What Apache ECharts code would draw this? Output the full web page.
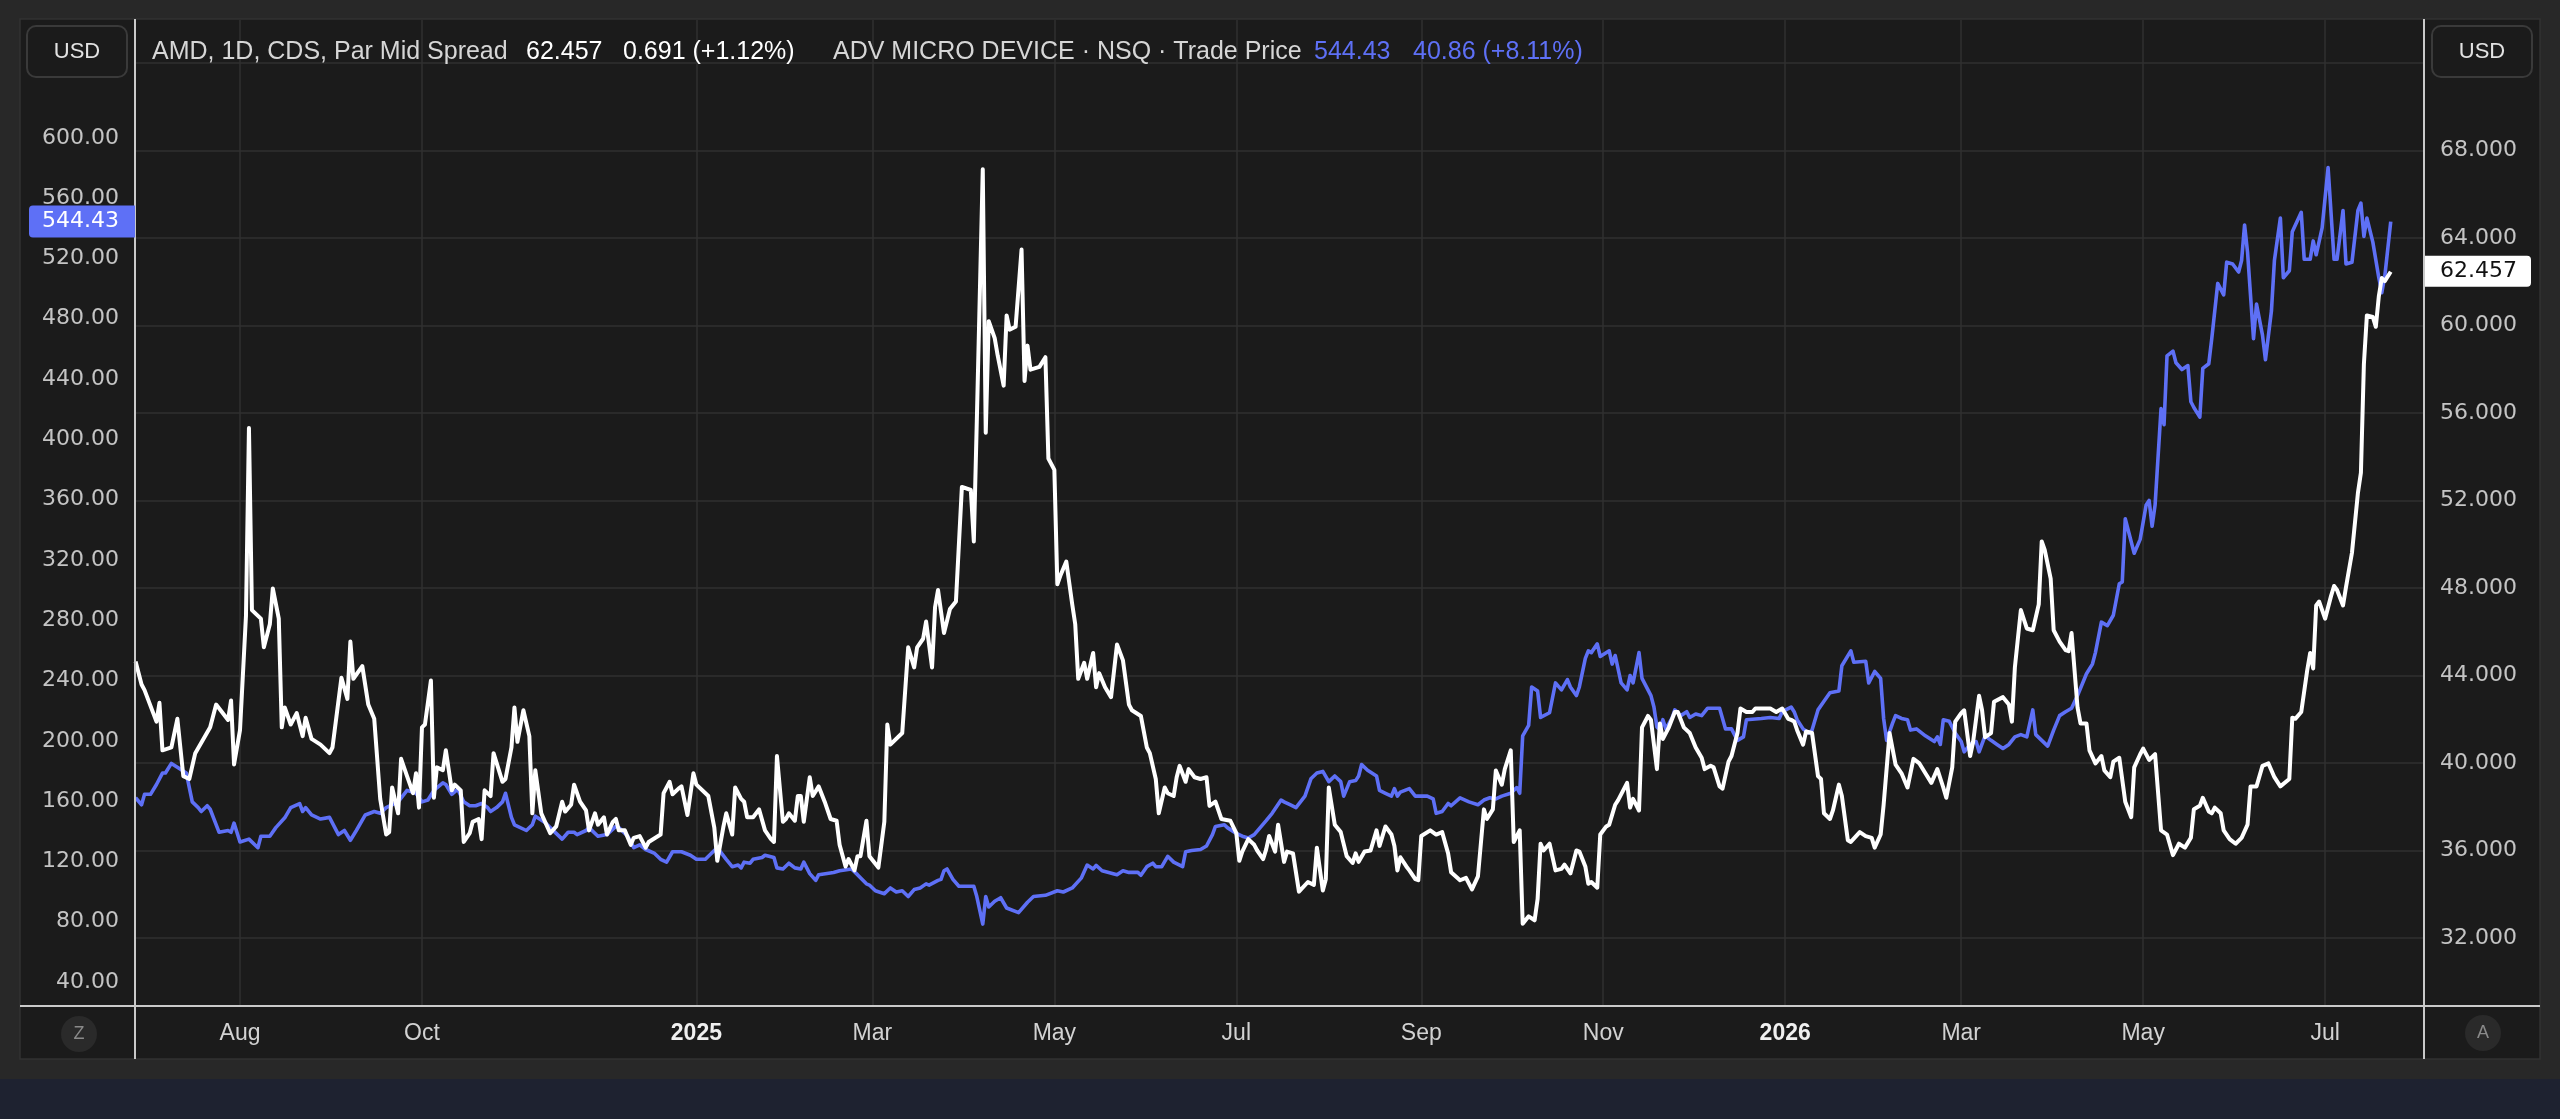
<!DOCTYPE html>
<html>
<head>
<meta charset="utf-8">
<script src="https://cdn.jsdelivr.net/npm/echarts@6/dist/echarts.min.js"></script>
<style>
html,body{margin:0;padding:0;background:#282828;}
#chart{width:2560px;height:1119px;}
</style>
</head>
<body>
<div id="chart"></div>
<script>
// ---------- data ----------
// Each point: [day offset from BASE_DAY (1 Aug 2024), value]
const BASE_DAY = '2024-08-01';

// AMD 1D CDS Par Mid Spread (right axis)
const cdsPoints = [
[-35,44.64],[-33,43.59],[-32,43.33],[-28,41.89],[-27,42.75],[-26,40.58],[-23,40.71],[-21,42.02],[-19,39.40],[-17,39.27],
[-15,40.45],[-10,41.63],[-8,42.67],[-4,41.97],[-3,42.86],[-2,39.93],[0,41.50],[2,46.73],[3,55.31],[4,46.99],
[7,46.60],[8,45.29],[10,46.34],[11,47.98],[13,46.60],[14,41.63],[15,42.54],[17,41.76],[19,42.28],[21,41.23],
[22,42.07],[24,41.10],[27,40.84],[30,40.45],[31,40.71],[34,43.90],[36,42.93],[37,45.55],[38,43.85],[41,44.43],
[43,42.67],[45,42.02],[47,38.36],[49,36.73],[50,36.84],[51,38.88],[53,37.70],[54,40.19],[56,39.40],[58,38.62],
[59,39.53],[60,37.96],[61,41.63],[62,41.76],[64,43.77],[65,38.41],[66,39.80],[68,39.67],[69,40.58],[71,38.75],
[72,39.01],[74,38.75],[75,36.39],[77,36.79],
[78,37.31],[80,37.44],[81,36.52],[82,38.75],[84,38.49],[85,40.45],[88,39.14],[89,39.27],[91,40.71],[92,42.54],
[93,40.97],[95,42.41],[97,41.23],[98,37.70],[99,39.67],[101,37.70],[104,36.79],[106,37.10],[108,38.23],[109,37.78],
[111,38.09],[112,39.01],[114,38.23],[116,37.83],[117,36.92],[119,37.70],[120,37.18],[122,37.52],[123,36.73],[125,37.31],
[126,37.44],[127,36.92],[129,36.92],[131,36.26],[132,36.58],[134,36.66],[136,36.13],[137,36.39],[141,36.73],[142,38.62],
[144,39.14],[145,38.57],[147,38.83],[148,38.93],[150,37.62],[152,39.53],[153,39.01],[157,38.49],[159,37.05],[160,35.53],
[162,37.05],[163,37.70],[165,36.73],[166,38.88],[168,38.36],[169,38.23],[170,37.52],[172,37.52],[174,37.88],[176,36.92],
[178,36.52],[179,36.39],[180,40.32],[182,37.31],[183,37.44],[184,37.70],[186,37.36],[187,38.49],[188,38.49],
[189,37.31],[191,39.35],[192,38.49],[194,38.93],[196,38.23],[198,37.44],[200,37.36],[201,36.26],[203,35.27],[204,35.61],
[206,35.09],[207,35.74],[208,35.74],[210,37.36],[211,35.74],[214,35.22],[215,36.26],[216,37.31],[217,41.76],[218,40.84],
[222,41.37],[224,45.29],[226,44.37],[227,45.29],[229,45.68],[230,46.47],[232,44.37],[233,47.12],[234,47.91],[236,45.94],
[238,47.04],[240,47.38],[242,52.62],[245,52.48],[246,50.13],[247,55.62],[249,67.14],[250,55.10],[251,60.20],[253,59.42],
[254,58.63],[256,57.25],[257,60.46],[258,59.81],[260,59.94],[262,63.47],[263,57.46],[264,59.08],[265,57.98],[268,58.11],
[270,58.55],[271,53.92],[273,53.40],[274,48.17],[275,48.56],[277,49.21],[279,47.25],[280,46.34],[281,43.85],[283,44.58],
[284,43.85],[286,45.03],[287,43.46],[288,44.11],[290,43.46],[292,43.01],[294,45.42],[296,44.69],[298,42.67],
[299,42.41],[302,42.15],[304,40.71],[305,40.45],[307,39.27],[308,37.70],[310,38.88],[311,38.62],[313,38.49],[314,39.35],
[315,39.87],[317,39.14],[318,39.72],[320,39.35],[322,39.27],[324,39.35],[325,38.04],[327,38.23],[329,37.44],[332,37.36],
[334,36.79],[335,35.53],[336,35.95],[338,36.52],[340,36.26],[341,36.00],[343,35.61],[344,36.05],[345,36.66],[347,35.95],
[348,37.18],[350,35.48],[351,35.95],[353,35.87],[355,34.12],[358,34.56],[360,34.43],[361,36.13],[363,34.17],[364,34.69],
[365,38.88],[367,37.18],[369,36.84],[371,35.74],[373,35.43],[374,35.87],[375,35.48],[377,35.95],[379,36.00],[381,36.92],
[382,36.21],[384,37.10],[386,36.73],[387,36.21],[388,35.09],[389,35.69],[391,35.27],[392,35.09],[394,34.69],[395,34.64],
[396,36.66],[399,36.92],[401,36.73],[403,36.84],[405,35.87],[406,35.01],[409,34.64],
[411,34.75],[413,34.22],[415,34.82],[417,37.88],[418,37.44],[420,37.88],[421,39.66],[423,39.01],[424,39.72],[426,40.58],
[427,36.39],[429,36.92],[430,32.65],[432,32.99],[434,32.81],[435,33.78],[436,36.31],[437,36.00],[439,36.31],[441,35.09],
[443,35.16],[444,35.35],[446,34.95],[448,36.00],[449,35.95],[451,35.27],[452,34.48],[453,34.56],[455,34.30],[456,36.73],
[458,37.10],[459,37.18],[461,38.09],[462,38.30],[465,39.09],[466,37.96],[467,38.36],[469,37.83],[470,41.63],[472,42.15],
[473,41.97],[475,39.72],[476,41.81],[477,41.10],[479,41.63],[481,42.33],[482,42.33],[484,41.63],[486,41.37],[488,40.71],
[490,40.24],[491,39.72],[493,39.87],[494,39.80],[496,38.93],[497,38.83],[499,40.06],[500,40.32],[502,41.37],[503,42.49],
[505,42.33],[507,42.33],[508,42.49],[513,42.49],[515,42.33],[517,42.49],[519,42.02],[520,41.97],
[521,41.90],[522,41.50],[524,40.84],[525,41.44],[527,41.37],[529,39.40],[530,39.27],[531,37.70],[533,37.44],[534,37.83],
[536,39.01],[537,38.49],[539,36.47],[540,36.39],[543,36.84],[545,36.66],[547,36.58],[548,36.13],[550,36.73],[551,38.09],
[553,41.37],[555,39.93],[557,39.53],[559,38.88],[561,40.19],[563,39.98],[565,39.53],[567,39.09],[569,39.72],[571,38.88],
[572,38.41],[574,39.80],[575,41.89],[577,42.28],[578,42.41],[580,40.32],[581,40.97],[583,43.07],[584,42.41],[585,41.18],
[587,41.37],[588,42.80],[591,43.01],[593,42.67],[594,41.89],[595,44.37],[597,46.99],[599,46.15],[601,46.07],[603,47.25],
[604,50.13],[605,49.74],[607,48.43],[608,46.07],[610,45.55],[612,45.16],[613,45.11],[614,45.94],[616,42.54],[617,41.81],
[619,41.81],[620,40.58],[622,39.98],[624,40.32],[625,39.66],[627,39.35],[628,40.06],[630,40.24],
[632,38.23],[634,37.52],[635,39.80],[637,40.40],[638,40.66],[640,40.14],[642,40.40],[644,36.92],[646,36.73],[648,35.79],
[650,36.31],[652,36.13],[654,36.58],[655,37.89],[657,38.04],[658,38.41],[660,37.78],[661,37.70],[662,37.96],[664,37.70],
[665,36.92],[667,36.52],[669,36.31],[671,36.58],[673,37.18],[674,38.93],[676,38.93],[678,39.87],[680,39.98],[682,39.35],
[684,38.93],[687,39.27],[688,42.07],[689,42.02],[691,42.33],[693,44.24],[694,45.03],[695,44.32],[696,47.20],[697,47.38],
[699,46.60],[701,47.64],[702,48.09],[703,47.91],[705,47.20],[706,48.04],[708,49.61],[710,52.35],[711,53.27],[712,58.24],
[713,60.46],[715,60.39],[716,59.94],[717,61.33],[718,62.17],[719,62.03],[721,62.457]
];

// ADV MICRO DEVICE · NSQ · Trade Price (left axis)
const pricePoints = [
[-35,162.2],[-33,157.6],[-32,164.5],[-30,164.5],[-28,171.0],[-26,178.6],[-25,178.6],[-23,185.0],[-21,182.4],[-18,178.6],
[-16,159.5],[-14,155.7],[-13,153.1],[-11,156.9],[-10,154.6],[-7,139.3],[-4,140.5],[-3,139.3],[-2,145.4],[0,132.9],
[3,134.8],[6,129.1],[7,136.7],[10,136.7],[12,142.4],[15,148.9],[17,155.7],[20,158.4],[21,153.1],[22,155.7],
[24,150.8],[27,148.1],[30,149.2],[33,137.8],[35,140.5],[37,134.0],[39,140.5],[42,150.8],[45,153.1],[47,151.9],
[49,155.7],[53,159.5],[56,167.1],[59,165.2],[61,159.5],[63,160.7],[65,167.1],[68,172.1],[69,171.0],[71,164.5],
[73,167.9],[75,159.5],[77,156.9],
[79,156.9],[81,158.4],[83,155.7],[84,153.1],[86,155.7],[88,159.5],[89,165.2],[91,149.2],[92,144.3],[96,140.5],
[98,144.3],[99,150.0],[102,146.2],[104,142.4],[106,138.6],[108,134.8],[110,139.3],[112,139.3],[113,137.8],[116,140.5],
[117,142.4],[120,136.7],[123,137.8],[126,143.2],[127,142.4],[130,136.7],[132,129.1],[134,131.0],[136,127.9],[139,125.3],
[141,121.4],[143,119.5],[145,126.4],[148,126.4],[151,124.1],[153,121.4],[156,121.4],[159,127.2],[160,129.1],[163,121.4],
[165,116.5],[167,117.6],[168,115.7],[169,119.5],[171,118.8],[172,121.4],[175,122.6],[176,124.1],[179,122.6],[180,115.7],
[182,115.0],[184,118.8],[186,115.7],[188,115.0],
[189,119.5],[191,111.9],[193,107.4],[194,111.2],[199,112.7],[201,113.8],[205,115.0],[207,111.2],[210,105.1],[211,104.3],
[213,100.5],[216,98.6],[218,102.4],[220,99.7],[222,100.5],[224,96.7],[226,101.3],[228,102.4],[230,105.1],[231,104.3],
[234,107.4],[235,108.1],[236,113.8],[237,115.0],[239,108.1],[241,103.5],[246,103.5],[247,96.7],[249,78.4],[250,96.7],
[251,89.8],[253,93.6],[255,95.9],[257,89.1],[261,86.0],[264,92.9],[266,96.7],[270,97.5],[274,100.5],[276,99.7],
[279,102.4],[282,108.9],[284,117.6],[286,115.0],[287,117.3],[289,113.8],[294,111.2],[296,113.8],[298,112.7],
[301,112.7],[302,110.8],[304,116.5],[306,118.8],[307,116.5],[309,116.5],[311,123.4],[313,119.5],[316,116.5],[317,126.4],
[319,127.2],[322,127.9],[324,130.2],[326,137.8],[327,143.2],[330,144.3],[331,142.4],[334,138.6],[336,136.7],[338,135.5],
[340,137.8],[342,142.4],[344,147.0],[346,151.9],[349,160.7],[350,159.5],[352,157.6],[354,155.7],[357,163.3],[359,174.8],
[361,178.6],[363,179.7],[365,172.9],[367,176.7],[369,172.9],[370,163.3],[372,172.9],[374,173.6],[375,176.7],[376,184.3],
[378,180.5],[381,176.7],[382,167.1],[384,165.2],[386,163.3],[387,168.3],[388,163.3],[389,166.0],[392,168.3],[394,163.3],
[398,163.3],[400,161.4],[401,151.9],[403,153.1],[405,158.4],[406,156.9],[409,162.2],
[412,159.5],[415,157.6],[417,160.7],[419,162.2],[421,161.4],[423,163.3],[426,165.2],[428,169.0],[429,165.2],[430,203.3],
[432,210.2],[433,235.7],[435,233.0],[436,215.5],[439,218.6],[441,238.4],[443,233.8],[445,240.6],[446,235.7],[448,230.0],
[449,235.7],[451,254.7],[452,259.7],[453,258.5],[455,264.3],[456,255.9],[459,259.7],[460,250.9],[461,256.6],[463,238.4],
[465,233.8],[466,243.3],[467,238.4],[469,258.5],[470,241.4],[473,230.0],[474,222.4],[475,209.1],[476,207.1],[477,214.0],
[478,207.9],[480,214.8],[481,220.5],[483,216.7],[485,219.3],[486,215.5],[488,217.8],[490,216.7],[492,221.6],[496,221.6],
[498,207.9],[500,207.9],[502,200.3],[504,202.6],[505,214.0],[510,214.8],[513,215.5],[516,214.8],[517,219.3],[520,222.4],
[521,219.3],[522,214.0],[524,207.9],[526,205.2],[527,207.1],[529,220.5],[531,226.2],[533,231.9],[536,233.0],[537,249.8],
[540,259.7],[541,252.1],[545,252.8],[546,238.4],[548,246.0],[550,241.4],[551,214.8],[552,200.3],[554,211.7],[555,216.7],
[557,214.8],[559,214.0],[560,207.1],[562,207.9],[565,203.3],[568,199.5],[569,202.6],[570,197.6],[571,214.0],[573,212.9],
[575,205.2],[577,199.5],[578,192.7],[580,197.6],[582,199.5],[583,192.7],[585,203.3],[587,200.3],[589,197.6],[591,194.9],
[593,197.6],[595,202.6],[597,204.1],[599,202.6],[601,220.5],[602,204.1],[606,196.5],[608,207.1],[610,216.7],[612,219.3],
[614,221.6],[616,230.0],[619,244.5],[621,250.9],[622,258.5],[624,278.7],[626,276.4],[628,283.3],[630,304.2],[631,305.4],
[632,347.3],[635,324.4],[637,333.6],[639,356.4],[640,359.4],[641,342.3],[642,356.4],[644,420.4],[645,409.7],[646,455.4],
[648,458.5],[649,450.8],[651,446.3],[653,448.9],[654,424.9],[655,421.1],[657,414.7],[658,447.0],[660,450.1],[661,466.8],
[663,503.4],[665,495.8],[666,517.5],[668,516.3],[670,511.0],[671,518.6],[672,542.2],[673,524.0],[675,466.8],[676,489.7],
[678,469.1],[679,452.8],[681,485.1],[682,518.6],[684,546.8],[685,507.2],[687,511.8],[688,537.7],[691,550.6],[692,519.4],
[694,519.4],[695,531.6],[696,522.4],[698,540.3],[700,580.3],[702,519.4],[703,519.4],[705,551.8],[706,516.3],[708,517.5],
[710,551.8],[711,556.7],[712,534.6],[713,546.8],[715,530.8],[717,507.2],[718,497.3],[719,508.0],[721,544.43]
];

// axis ticks / labels
const monthTickDates = ['2024-08-01','2024-10-01','2025-01-01','2025-03-01','2025-05-01','2025-07-01',
                        '2025-09-01','2025-11-01','2026-01-01','2026-03-01','2026-05-01','2026-07-01'];
const monthNames = ['Jan','Feb','Mar','Apr','May','Jun','Jul','Aug','Sep','Oct','Nov','Dec'];
const priceTickLabels = [40,80,120,160,200,240,280,320,360,400,440,480,520,560,600];
const cdsTickLabels = [32,36,40,44,48,52,56,60,64,68];
const cdsGridLines = [32,36,40,44,48,52,56,60,64,68,72];
const viewRangeDays = [-35.2, 732.15];

// header quotes
const cdsTitle = 'AMD, 1D, CDS, Par Mid Spread';
const cdsQuote = ['62.457', '0.691 (+1.12%)'];
const priceTitle = 'ADV MICRO DEVICE \u00b7 NSQ \u00b7 Trade Price';
const priceQuote = ['544.43', '40.86 (+8.11%)'];

// ---------- build ----------
const DAY = 86400000;
const base = new Date(BASE_DAY + 'T00:00:00Z').getTime();
const toTime = d => base + d * DAY;
const cdsData = cdsPoints.map(p => [toTime(p[0]), p[1]]);
const priceData = pricePoints.map(p => [toTime(p[0]), p[1]]);
const monthTicks = monthTickDates.map(s => new Date(s + 'T00:00:00Z').getTime());

const BLUE = '#5e70f6';
const GRID = '#303030';
const AXIS = '#c9c9c9';

const chart = echarts.init(document.getElementById('chart'), null, {renderer: 'canvas'});

const option = {
  animation: false,
  backgroundColor: '#1b1b1b',
  grid: {left: 135, right: 136, top: 20, bottom: 113, containLabel: false, outerBoundsMode: 'none'},
  xAxis: {
    // time values (ms) on a linear axis so month ticks can be given explicitly
    type: 'value',
    min: toTime(viewRangeDays[0]),
    max: toTime(viewRangeDays[1]),
    axisLine: {show: false},
    axisTick: {show: false, customValues: monthTicks},
    splitLine: {show: true, lineStyle: {color: GRID, width: 1.5}},
    axisLabel: {
      customValues: monthTicks,
      margin: 16,
      color: '#d2d2d2',
      fontSize: 23,
      fontFamily: 'Liberation Sans',
      formatter: function (val) {
        const d = new Date(val);
        const m = d.getUTCMonth();
        return m === 0 ? '{yr|' + d.getUTCFullYear() + '}' : monthNames[m];
      },
      rich: {yr: {fontWeight: 'bold', color: '#f0f0f0', fontSize: 23, fontFamily: 'Liberation Sans'}}
    }
  },
  yAxis: [
    {
      type: 'value', position: 'left',
      min: 24.08, max: 678.15,
      axisLine: {show: false}, axisTick: {show: false}, splitLine: {show: false},
      axisLabel: {
        customValues: priceTickLabels, margin: 16,
        color: '#c4c4c4', fontSize: 22, fontFamily: 'DejaVu Sans',
        formatter: v => Number(v).toFixed(2)
      }
    },
    {
      type: 'value', position: 'right',
      min: 28.891, max: 73.966,
      axisLine: {show: false},
      axisTick: {show: false, customValues: cdsGridLines},
      splitLine: {show: true, lineStyle: {color: GRID, width: 1.5}},
      axisLabel: {
        customValues: cdsTickLabels, margin: 16,
        color: '#c4c4c4', fontSize: 22, fontFamily: 'DejaVu Sans',
        formatter: v => Number(v).toFixed(3)
      }
    }
  ],
  series: [
    {
      name: priceTitle, type: 'line', yAxisIndex: 0, data: priceData,
      symbol: 'none', showSymbol: false, z: 2,
      lineStyle: {color: BLUE, width: 3.6, join: 'round'}
    },
    {
      name: cdsTitle, type: 'line', yAxisIndex: 1, data: cdsData,
      symbol: 'none', showSymbol: false, z: 3,
      lineStyle: {color: '#ffffff', width: 4, join: 'round'}
    }
  ]
};
chart.setOption(option);

const priceLast = pricePoints[pricePoints.length - 1][1];
const cdsLast = cdsPoints[cdsPoints.length - 1][1];
const yPrice = chart.convertToPixel({yAxisIndex: 0}, priceLast);
const yCds = chart.convertToPixel({yAxisIndex: 1}, cdsLast);

const headFont = '25px "Liberation Sans"';
const elements = [
  // outer frame
  {type: 'rect', shape: {x: 0, y: 0, width: 2560, height: 19}, style: {fill: '#282828'}, z: 1},
  {type: 'rect', shape: {x: 0, y: 0, width: 20, height: 1119}, style: {fill: '#282828'}, z: 1},
  {type: 'rect', shape: {x: 2540, y: 0, width: 20, height: 1119}, style: {fill: '#282828'}, z: 1},
  {type: 'rect', shape: {x: 0, y: 1059, width: 2560, height: 20}, style: {fill: '#282828'}, z: 1},
  {type: 'rect', shape: {x: 0, y: 1079, width: 2560, height: 40}, style: {fill: '#1e2230'}, z: 1},
  {type: 'rect', shape: {x: 20, y: 19, width: 2520, height: 1040}, style: {fill: 'none', stroke: '#323232', lineWidth: 1.5}, z: 1},
  // axis lines
  {type: 'line', shape: {x1: 135, y1: 19, x2: 135, y2: 1059}, style: {stroke: AXIS, lineWidth: 2}, z: 50},
  {type: 'line', shape: {x1: 2424, y1: 19, x2: 2424, y2: 1059}, style: {stroke: AXIS, lineWidth: 2}, z: 50},
  {type: 'line', shape: {x1: 20, y1: 1006, x2: 2540, y2: 1006}, style: {stroke: AXIS, lineWidth: 2}, z: 50},
  // USD boxes
  {type: 'rect', shape: {x: 27, y: 26, width: 100, height: 51, r: 9}, style: {fill: '#1b1b1b', stroke: '#3a3a3a', lineWidth: 2}, z: 60},
  {type: 'text', x: 77, y: 52, style: {text: 'USD', font: '22px "Liberation Sans"', fill: '#e2e2e2', align: 'center', verticalAlign: 'middle'}, z: 61},
  {type: 'rect', shape: {x: 2432, y: 26, width: 100, height: 51, r: 9}, style: {fill: '#1b1b1b', stroke: '#3a3a3a', lineWidth: 2}, z: 60},
  {type: 'text', x: 2482, y: 52, style: {text: 'USD', font: '22px "Liberation Sans"', fill: '#e2e2e2', align: 'center', verticalAlign: 'middle'}, z: 61},
  // Z / A buttons
  {type: 'circle', shape: {cx: 79, cy: 1034, r: 18}, style: {fill: '#2a2a2a'}, z: 60},
  {type: 'text', x: 79, y: 1034, style: {text: 'Z', font: '18px "Liberation Sans"', fill: '#8a8a8a', align: 'center', verticalAlign: 'middle'}, z: 61},
  {type: 'circle', shape: {cx: 2483, cy: 1033, r: 18}, style: {fill: '#2a2a2a'}, z: 60},
  {type: 'text', x: 2483, y: 1033, style: {text: 'A', font: '18px "Liberation Sans"', fill: '#8a8a8a', align: 'center', verticalAlign: 'middle'}, z: 61},
  // header legend
  {type: 'text', x: 152, y: 52, style: {text: cdsTitle, font: headFont, fill: '#d6d6d6', verticalAlign: 'middle'}, z: 61},
  {type: 'text', x: 526, y: 52, style: {text: cdsQuote[0], font: headFont, fill: '#ffffff', verticalAlign: 'middle'}, z: 61},
  {type: 'text', x: 623, y: 52, style: {text: cdsQuote[1], font: headFont, fill: '#ffffff', verticalAlign: 'middle'}, z: 61},
  {type: 'text', x: 833, y: 52, style: {text: priceTitle, font: headFont, fill: '#d6d6d6', verticalAlign: 'middle'}, z: 61},
  {type: 'text', x: 1314, y: 52, style: {text: priceQuote[0], font: headFont, fill: BLUE, verticalAlign: 'middle'}, z: 61},
  {type: 'text', x: 1413, y: 52, style: {text: priceQuote[1], font: headFont, fill: BLUE, verticalAlign: 'middle'}, z: 61},
  // last value tags
  {type: 'rect', shape: {x: 29, y: yPrice - 16, width: 106, height: 32, r: [4, 0, 0, 4]}, style: {fill: BLUE}, z: 70},
  {type: 'text', x: 119, y: yPrice, style: {text: priceQuote[0], font: '22px "DejaVu Sans"', fill: '#ffffff', align: 'right', verticalAlign: 'middle'}, z: 71},
  {type: 'rect', shape: {x: 2425, y: yCds - 16, width: 106, height: 31, r: [0, 4, 4, 0]}, style: {fill: '#ffffff'}, z: 70},
  {type: 'text', x: 2440, y: yCds, style: {text: cdsQuote[0], font: '22px "DejaVu Sans"', fill: '#111111', align: 'left', verticalAlign: 'middle'}, z: 71}
];
chart.setOption({graphic: {elements: elements}});
</script>
</body>
</html>
